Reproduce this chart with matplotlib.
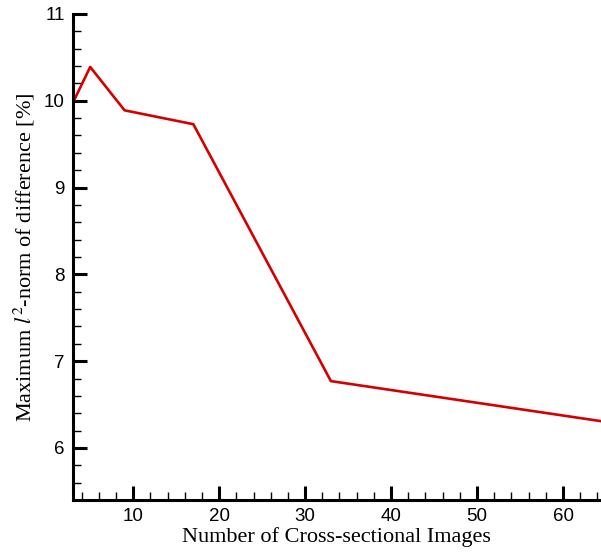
import matplotlib
matplotlib.use("Agg")
import matplotlib.pyplot as plt
from matplotlib.ticker import MultipleLocator

# data
n_images = [3, 5, 9, 17, 33, 65]
max_l2_diff = [9.98, 10.39, 9.89, 9.73, 6.77, 6.30]

plt.rcParams['mathtext.fontset'] = 'stix'

fig = plt.figure(figsize=(6.01, 5.52), dpi=100)
ax = fig.add_axes([73 / 601, 52 / 552, 533 / 601, 486 / 552])

ax.plot(n_images, max_l2_diff, color='#d40000', lw=1.9)

ax.set_xlim(3, 65)
ax.set_ylim(5.4, 11)
ax.xaxis.set_major_locator(MultipleLocator(10))
ax.xaxis.set_minor_locator(MultipleLocator(2))
ax.yaxis.set_major_locator(MultipleLocator(1))
ax.yaxis.set_minor_locator(MultipleLocator(0.2))

for side in ['top', 'right']:
    ax.spines[side].set_visible(False)
for side in ['left', 'bottom']:
    ax.spines[side].set_linewidth(2.2)

ax.tick_params(which='major', direction='in', length=10, width=2.2,
               labelsize=13.5, pad=6)
ax.tick_params(which='minor', direction='in', length=6, width=1.0)
for lbl in ax.get_xticklabels() + ax.get_yticklabels():
    lbl.set_fontfamily('Liberation Sans')

ax.set_xlabel('Number of Cross-sectional Images', fontfamily='Liberation Serif',
              fontsize=16, va='center')
ax.set_ylabel(r'Maximum $\mathit{l}^2$-norm of difference [%]',
              fontfamily='Liberation Serif', fontsize=16, va='center')
ax.xaxis.set_label_coords(0.495, -0.076)
ax.yaxis.set_label_coords(-0.092, 0.5)

fig.savefig('out.png', dpi=100)
